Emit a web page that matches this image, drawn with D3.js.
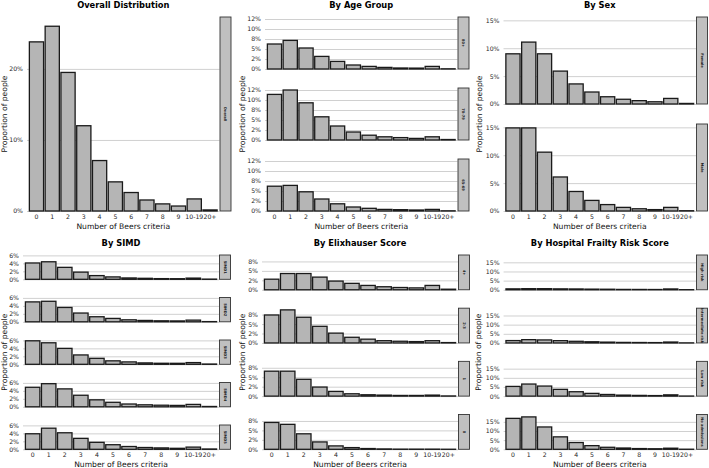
<!DOCTYPE html>
<html>
<head>
<meta charset="utf-8">
<script src="https://cdn.jsdelivr.net/npm/d3@7"></script>
<style>
  body { margin: 0; background: #fff; }
  svg { display: block; font-family: "DejaVu Sans", sans-serif; }
</style>
</head>
<body>
<div id="chart"></div>
<script>
// categories on the x axis
const beersCats = ["0", "1", "2", "3", "4", "5", "6", "7", "8", "9", "10-19", "20+"];

// values are % of all people
const overall = [23.8, 26.0, 19.5, 12.0, 7.1, 4.1, 2.6, 1.55, 1.0, 0.7, 1.7, 0.15];

const ageLabels = ["80+", "70-79", "65-69"];
const age80 = [6.25, 7.15, 5.25, 3.15, 1.9, 1.0, 0.65, 0.4, 0.25, 0.22, 0.65, 0.05];
const age70 = [11.4, 12.5, 9.3, 5.8, 3.5, 2.0, 1.2, 0.8, 0.6, 0.4, 0.8, 0.12];
const age65 = [6.2, 6.4, 4.8, 3.0, 1.8, 1.0, 0.67, 0.4, 0.33, 0.25, 0.4, 0.05];

const sexLabels = ["Female", "Male"];
const female = [9.0, 11.1, 9.0, 5.9, 3.6, 2.15, 1.3, 0.85, 0.6, 0.4, 1.0, 0.1];
const male = [14.9, 14.9, 10.55, 6.1, 3.5, 1.9, 1.15, 0.65, 0.4, 0.25, 0.65, 0.05];

const simdLabels = ["SIMD1", "SIMD2", "SIMD3", "SIMD4", "SIMD5"];
const simd1 = [4.1, 4.4, 3.0, 1.8, 0.93, 0.6, 0.34, 0.25, 0.17, 0.15, 0.3, 0.05];
const simd2 = [5.0, 5.15, 3.6, 2.2, 1.27, 0.85, 0.5, 0.34, 0.25, 0.22, 0.42, 0.05];
const simd3 = [5.9, 5.4, 4.0, 2.35, 1.5, 0.87, 0.6, 0.35, 0.26, 0.25, 0.43, 0.07];
const simd4 = [4.9, 5.8, 4.5, 2.9, 1.75, 1.13, 0.7, 0.5, 0.4, 0.35, 0.6, 0.08];
const simd5 = [3.9, 5.3, 4.15, 2.75, 1.75, 1.15, 0.7, 0.45, 0.35, 0.25, 0.55, 0.08];

const elixLabels = ["4+", "2-3", "1", "0"];
const elix4 = [2.8, 4.3, 4.3, 3.35, 2.3, 1.7, 1.15, 0.8, 0.6, 0.5, 1.15, 0.15];
const elix2 = [7.4, 8.75, 6.8, 4.4, 2.6, 1.5, 1.0, 0.6, 0.45, 0.36, 0.6, 0.1];
const elix1 = [6.6, 6.6, 4.45, 2.4, 1.25, 0.62, 0.36, 0.27, 0.18, 0.18, 0.27, 0.05];
const elix0 = [7.1, 6.6, 4.1, 1.95, 0.9, 0.45, 0.2, 0.1, 0.05, 0.05, 0.05, 0.02];

const hfrsLabels = ["High risk", "Intermediate risk", "Low risk", "No admissions"];
const hfrsHigh = [0.5, 0.6, 0.6, 0.5, 0.45, 0.35, 0.3, 0.2, 0.18, 0.15, 0.45, 0.05];
const hfrsMid = [1.3, 1.8, 1.65, 1.25, 0.9, 0.65, 0.45, 0.3, 0.25, 0.2, 0.5, 0.05];
const hfrsLow = [5.3, 6.6, 5.5, 3.7, 2.4, 1.5, 0.9, 0.55, 0.4, 0.3, 0.7, 0.05];
const hfrsNone = [16.9, 17.7, 12.2, 6.8, 3.7, 2.0, 1.1, 0.7, 0.4, 0.3, 0.6, 0.05];

// y tick values and their printed labels
const ticksOverall = [0, 10, 20];
const ticksOverallLab = ["0%", "10%", "20%"];
const ticksAge = [0, 2.5, 5, 7.5, 10, 12.5];
const ticksAgeLab = ["0%", "2%", "5%", "8%", "10%", "12%"];
const ticksSex = [0, 5, 10, 15];
const ticksSexLab = ["0%", "5%", "10%", "15%"];
const ticksSimd = [0, 2, 4, 6];
const ticksSimdLab = ["0%", "2%", "4%", "6%"];
const ticksElix = [0, 2.5, 5, 7.5];
const ticksElixLab = ["0%", "2%", "5%", "8%"];

const svg = d3.select("#chart")
  .append("svg")
  .attr("width", 709)
  .attr("height", 468);

function drawPanel(p) {
  const g = svg.append("g");
  const n = p.rows.length;
  const rowH = (p.bottom - p.top - p.gap * (n - 1)) / n;

  const xScale = d3.scaleBand()
    .domain(beersCats)
    .range([p.left, p.right])
    .paddingInner(0.1)
    .paddingOuter(0.15);

  p.rows.forEach((vals, i) => {
    const y0 = p.top + i * (rowH + p.gap);
    const yScale = d3.scaleLinear()
      .domain([0, p.yMax])
      .range([y0 + rowH, y0]);

    // y axis with gridlines
    const ya = g.append("g")
      .attr("transform", `translate(${p.left},0)`)
      .call(d3.axisLeft(yScale)
        .tickValues(p.ticks)
        .tickFormat((d, k) => p.tickLabels[k])
        .tickSize(-(p.right - p.left))
        .tickPadding(4));
    ya.select(".domain").remove();
    ya.selectAll("line").attr("stroke", "#d0d0d0").attr("stroke-width", 1);
    ya.selectAll("text")
      .attr("font-size", 6.2)
      .attr("fill", "#262626")
      .attr("font-family", "DejaVu Sans");

    // bars
    g.append("g").selectAll("rect")
      .data(vals)
      .enter()
      .append("rect")
      .attr("x", (d, k) => xScale(beersCats[k]))
      .attr("y", d => yScale(d))
      .attr("width", xScale.bandwidth())
      .attr("height", d => yScale(0) - yScale(d))
      .attr("fill", "#b5b5b5")
      .attr("stroke", "#1a1a1a")
      .attr("stroke-width", 1.3);

    // facet strip on the right
    g.append("rect")
      .attr("x", p.right + 0.5)
      .attr("y", y0)
      .attr("width", 11)
      .attr("height", rowH)
      .attr("fill", "#c0c0c0")
      .attr("stroke", "#333")
      .attr("stroke-width", 0.9);
    g.append("text")
      .attr("transform", `translate(${p.right + 6},${y0 + rowH / 2}) rotate(90)`)
      .attr("text-anchor", "middle")
      .attr("dy", "0.35em")
      .attr("font-size", 3.6)
      .attr("font-weight", "bold")
      .attr("fill", "#1a1a1a")
      .text(p.labels[i]);

    // x tick labels only under the last row
    if (i === n - 1) {
      const xa = g.append("g")
        .attr("transform", `translate(0,${y0 + rowH})`)
        .call(d3.axisBottom(xScale).tickSize(0).tickPadding(3.5));
      xa.select(".domain").remove();
      xa.selectAll("text")
        .attr("font-size", 6.2)
        .attr("fill", "#262626")
        .attr("font-family", "DejaVu Sans");
    }
  });

  const cx = (p.left + p.right) / 2;

  // panel title
  g.append("text")
    .attr("x", cx)
    .attr("y", p.titleY)
    .attr("text-anchor", "middle")
    .attr("font-size", 8.3)
    .attr("font-weight", "bold")
    .text(p.title);

  // axis titles
  g.append("text")
    .attr("x", cx)
    .attr("y", p.bottom + 17.5)
    .attr("text-anchor", "middle")
    .attr("font-size", 7.6)
    .attr("fill", "#111")
    .text("Number of Beers criteria");

  g.append("text")
    .attr("transform", `translate(${p.yTitleX},${(p.top + p.bottom) / 2}) rotate(-90)`)
    .attr("text-anchor", "middle")
    .attr("dy", "0.35em")
    .attr("font-size", 7.6)
    .attr("fill", "#111")
    .text("Proportion of people");
}

drawPanel({
  title: "Overall Distribution", titleY: 8,
  left: 27, right: 219.5, top: 17, bottom: 211, gap: 0,
  yMax: 27.3, ticks: ticksOverall, tickLabels: ticksOverallLab,
  rows: [overall], labels: ["Overall"], yTitleX: 4.5
});

drawPanel({
  title: "By Age Group", titleY: 8,
  left: 265, right: 457.5, top: 17, bottom: 211, gap: 19,
  yMax: 13, ticks: ticksAge, tickLabels: ticksAgeLab,
  rows: [age80, age70, age65], labels: ageLabels, yTitleX: 242
});

drawPanel({
  title: "By Sex", titleY: 8,
  left: 503.5, right: 696, top: 17, bottom: 211, gap: 20,
  yMax: 15.6, ticks: ticksSex, tickLabels: ticksSexLab,
  rows: [female, male], labels: sexLabels, yTitleX: 479
});

drawPanel({
  title: "By SIMD", titleY: 246,
  left: 23, right: 219, top: 255, bottom: 449.3, gap: 18.2,
  yMax: 6.1, ticks: ticksSimd, tickLabels: ticksSimdLab,
  rows: [simd1, simd2, simd3, simd4, simd5], labels: simdLabels, yTitleX: 4.5
});

drawPanel({
  title: "By Elixhauser Score", titleY: 246,
  left: 262, right: 458, top: 255, bottom: 449.3, gap: 18.4,
  yMax: 9.2, ticks: ticksElix, tickLabels: ticksElixLab,
  rows: [elix4, elix2, elix1, elix0], labels: elixLabels, yTitleX: 242.5
});

drawPanel({
  title: "By Hospital Frailty Risk Score", titleY: 246,
  left: 503.6, right: 696, top: 255, bottom: 449.3, gap: 18.4,
  yMax: 19, ticks: ticksSex, tickLabels: ticksSexLab,
  rows: [hfrsHigh, hfrsMid, hfrsLow, hfrsNone], labels: hfrsLabels, yTitleX: 478.5
});
</script>
</body>
</html>
